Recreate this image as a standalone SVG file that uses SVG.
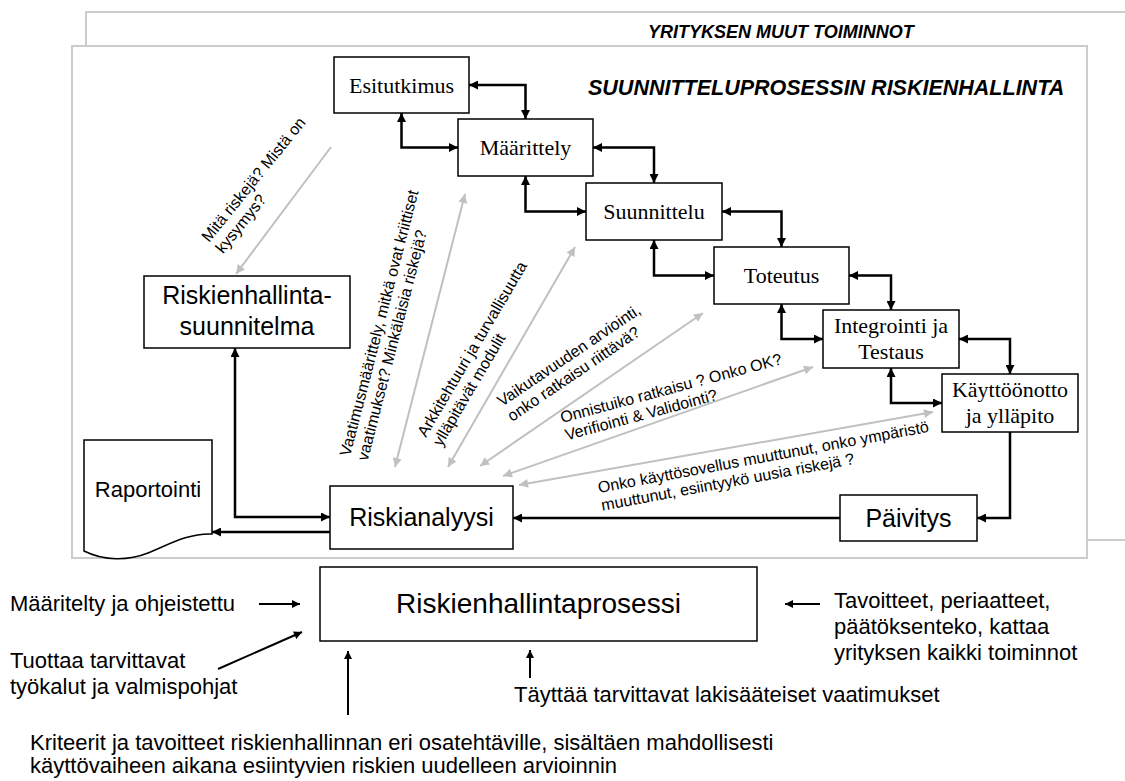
<svg xmlns="http://www.w3.org/2000/svg" width="1125" height="781" viewBox="0 0 1125 781">
  <style>
    .frame { fill: #ffffff; stroke: #cccccc; stroke-width: 2; }
    .box { fill: #ffffff; stroke: #000000; stroke-width: 1.5; }
    .phase { font-family: "Liberation Serif", "Times New Roman", serif; font-size: 22px; fill: #000; text-anchor: middle; }
    .sans { font-family: "Liberation Sans", Arial, sans-serif; fill: #000; }
    .big { font-size: 25px; text-anchor: middle; }
    .note { font-size: 16px; }
    .foot { font-size: 22px; }
    .head { font-weight: bold; font-style: italic; }
    .link { fill: none; stroke: #000; stroke-width: 2.5; }
    .flow { fill: none; stroke: #000; stroke-width: 2; }
    .query { fill: none; stroke: #c0c0c0; stroke-width: 2; }
  </style>
  <defs>
    <marker id="ah" viewBox="0 0 10 10" refX="10" refY="5" markerWidth="10" markerHeight="9" markerUnits="userSpaceOnUse" orient="auto-start-reverse">
      <path d="M0,0 L10,5 L0,10 z" fill="#000"/>
    </marker>
    <marker id="ahs" viewBox="0 0 10 10" refX="10" refY="5" markerWidth="11" markerHeight="8" markerUnits="userSpaceOnUse" orient="auto-start-reverse">
      <path d="M0,0 L10,5 L0,10 z" fill="#000"/>
    </marker>
    <marker id="ag" viewBox="0 0 10 10" refX="10" refY="5" markerWidth="13" markerHeight="9" markerUnits="userSpaceOnUse" orient="auto-start-reverse">
      <path d="M0,0 L10,5 L0,10 z" fill="#c0c0c0"/>
    </marker>
  </defs>

  <!-- company-level frame and the design-process frame on top of it -->
  <g id="frames">
    <rect class="frame" x="86" y="12" width="1060" height="528"/>
    <text class="sans head" x="648" y="38" font-size="18">YRITYKSEN MUUT TOIMINNOT</text>
    <rect class="frame" x="72" y="46" width="1015" height="512"/>
    <text class="sans head" x="588" y="95" font-size="21.5">SUUNNITTELUPROSESSIN RISKIENHALLINTA</text>
  </g>

  <!-- project phases -->
  <g id="esitutkimus">
    <rect class="box" x="334" y="57" width="135" height="56"/>
    <text class="phase" x="401.5" y="93">Esitutkimus</text>
  </g>
  <g id="maarittely">
    <rect class="box" x="458" y="119" width="135" height="57"/>
    <text class="phase" x="525.5" y="155">Määrittely</text>
  </g>
  <g id="suunnittelu">
    <rect class="box" x="586" y="183" width="136" height="57"/>
    <text class="phase" x="654" y="219">Suunnittelu</text>
  </g>
  <g id="toteutus">
    <rect class="box" x="714" y="247" width="135" height="57"/>
    <text class="phase" x="781.5" y="283">Toteutus</text>
  </g>
  <g id="integrointi">
    <rect class="box" x="823" y="310" width="136" height="58"/>
    <text class="phase" x="891" y="333">Integrointi ja</text>
    <text class="phase" x="891" y="359">Testaus</text>
  </g>
  <g id="kayttoonotto">
    <rect class="box" x="942" y="374" width="136" height="58"/>
    <text class="phase" x="1010" y="397">Käyttöönotto</text>
    <text class="phase" x="1010" y="423">ja ylläpito</text>
  </g>

  <!-- risk management items -->
  <g id="suunnitelma">
    <rect class="box" x="144" y="276" width="206" height="72"/>
    <text class="sans big" x="247" y="304">Riskienhallinta-</text>
    <text class="sans big" x="247" y="335">suunnitelma</text>
  </g>
  <g id="raportointi">
    <path class="box" d="M84,440 H212 V534 C188,533 168,545 148,553 C128,561 104,561 84,551 Z"/>
    <text class="sans" x="148" y="497" font-size="22" text-anchor="middle">Raportointi</text>
  </g>
  <g id="riskianalyysi">
    <rect class="box" x="330" y="486" width="183" height="63"/>
    <text class="sans big" x="421.5" y="526">Riskianalyysi</text>
  </g>
  <g id="paivitys">
    <rect class="box" x="840" y="495" width="137" height="46"/>
    <text class="sans big" x="908.5" y="527">Päivitys</text>
  </g>
  <g id="prosessi">
    <rect class="box" x="320" y="567" width="437" height="74"/>
    <text class="sans" x="538.5" y="613" font-size="28" text-anchor="middle">Riskienhallintaprosessi</text>
  </g>

  <!-- connectors -->
  <g id="connectors">
    <g marker-start="url(#ah)" marker-end="url(#ah)">
      <path class="link" d="M469,85 H525.5 V119"/>
      <path class="link" d="M401.5,113 V147.5 H458"/>
      <path class="link" d="M593,147.5 H654 V183"/>
      <path class="link" d="M525.5,176 V211.5 H586"/>
      <path class="link" d="M722,211.5 H781.5 V247"/>
      <path class="link" d="M654,240 V275.5 H714"/>
      <path class="link" d="M849,275.5 H891 V310"/>
      <path class="link" d="M781.5,304 V339 H823"/>
      <path class="link" d="M959,339 H1010 V374"/>
      <path class="link" d="M891,368 V403 H942"/>
      <path class="link" d="M330,517 H235 V348"/>
    </g>
    <g marker-end="url(#ah)">
      <path class="link" d="M1010,432 V518 H977"/>
      <path class="link" d="M840,518 H513"/>
      <path class="link" d="M330,532 H212"/>
    </g>

    <!-- questions passed between phases and the risk analysis -->
    <path class="query" d="M331,147 L236,274" marker-end="url(#ag)"/>
    <g marker-start="url(#ag)" marker-end="url(#ag)">
      <path class="query" d="M465,194 L395,467"/>
      <path class="query" d="M575,247 L448,467"/>
      <path class="query" d="M703,313 L480,466"/>
      <path class="query" d="M813,367 L503,476"/>
      <path class="query" d="M933,412 L519,485"/>
    </g>

    <!-- inputs of the risk management process -->
    <g marker-end="url(#ahs)">
      <path class="flow" d="M259,604 H300"/>
      <path class="flow" d="M218,669 L302,632"/>
      <path class="flow" d="M348,715 V651"/>
      <path class="flow" d="M530,678 V650"/>
      <path class="flow" d="M820,604 H785"/>
    </g>
  </g>

  <!-- labels along the question arrows -->
  <g id="questions" class="sans note">
    <text transform="translate(209,243) rotate(-51)"><tspan x="0" y="0">Mitä riskejä? Mistä on</tspan><tspan x="0" y="18">kysymys?</tspan></text>
    <text transform="translate(350,457) rotate(-75.5)"><tspan x="0" y="0">Vaatimusmäärittely, mitkä ovat kriittiset</tspan><tspan x="0" y="18">vaatimukset? Minkälaisia riskejä?</tspan></text>
    <text transform="translate(426,438) rotate(-59.5)"><tspan x="0" y="0">Arkkitehtuuri ja turvallisuutta</tspan><tspan x="0" y="18">ylläpitävät modulit</tspan></text>
    <text transform="translate(502,407) rotate(-34)"><tspan x="0" y="0">Vaikutavuuden arviointi,</tspan><tspan x="0" y="18">onko ratkaisu riittävä?</tspan></text>
    <text transform="translate(562,423) rotate(-15)"><tspan x="0" y="0">Onnistuiko ratkaisu ? Onko OK?</tspan><tspan x="0" y="18">Verifiointi &amp; Validointi?</tspan></text>
    <text transform="translate(599,493) rotate(-10.5)"><tspan x="0" y="0">Onko käyttösovellus muuttunut, onko ympäristö</tspan><tspan x="0" y="18">muuttunut, esiintyykö uusia riskejä ?</tspan></text>
  </g>

  <!-- texts around the process box -->
  <g id="inputs" class="sans foot">
    <text x="10" y="611">Määritelty ja ohjeistettu</text>
    <text x="10" y="668">Tuottaa tarvittavat</text>
    <text x="10" y="694">työkalut ja valmispohjat</text>
    <text x="514" y="702">Täyttää tarvittavat lakisääteiset vaatimukset</text>
    <text x="30" y="750">Kriteerit ja tavoitteet riskienhallinnan eri osatehtäville, sisältäen mahdollisesti</text>
    <text x="30" y="773">käyttövaiheen aikana esiintyvien riskien uudelleen arvioinnin</text>
    <text x="834" y="608">Tavoitteet, periaatteet,</text>
    <text x="834" y="634">päätöksenteko, kattaa</text>
    <text x="834" y="660">yrityksen kaikki toiminnot</text>
  </g>
</svg>
